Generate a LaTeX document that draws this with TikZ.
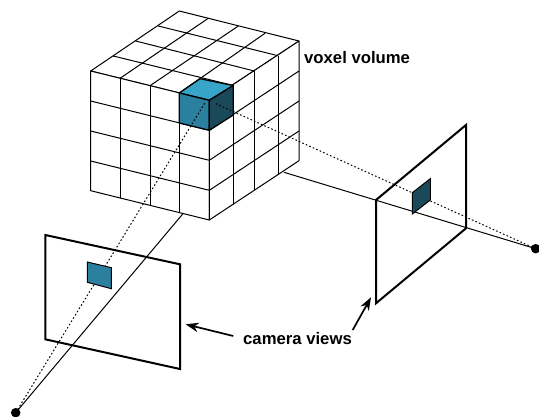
\documentclass[tikz,border=0pt]{standalone}
\usepackage{fontspec}
\setmainfont{Liberation Sans}
\usetikzlibrary{arrows.meta}
\tikzset{
  grid/.style={line width=1pt,line join=round},
  cubeedge/.style={line width=1.3pt,line join=round},
  frame/.style={line width=2pt,line join=miter},
  ray/.style={line width=1pt},
  dotray/.style={line width=1pt,dash pattern=on 1.6pt off 2.2pt},
  focal/.style={circle,fill=black,inner sep=0pt,minimum size=9.5pt},
  label/.style={inner sep=0pt,font=\fontsize{16.7pt}{19pt}\selectfont\bfseries},
  pointer/.style={line width=1.7pt,-{Stealth[length=13pt,width=9.5pt]}}
}
\definecolor{cubetop}{HTML}{37A4C8}
\definecolor{cubeleft}{HTML}{2B7F9F}
\definecolor{cuberight}{HTML}{1A4A5A}
\begin{document}
\begin{tikzpicture}[x=1pt,y=-1pt]
\useasboundingbox (0,0) rectangle (539,416);
% focal points
\node[focal] (fa) at (15.7,412.7) {};
\node[focal] (fb) at (535.7,248.7) {};
\coordinate (ra) at (182.7,214);
\coordinate (rb) at (284,172.3);
\coordinate (da) at (205,102.7);
\coordinate (db) at (215,103.3);
% solid rays
\draw[ray] (fa.center) -- (ra);
\draw[ray] (fb.center) -- (rb);
% image frames
\draw[frame] (45.3,235) -- (180,264.3) -- (180,369) -- (45.3,339.3) -- cycle;
\draw[frame] (376,200) -- (466,125) -- (466,228.3) -- (376,303.3) -- cycle;
% cube faces
\draw[grid,fill=white] (90.7,71) -- (179.3,11) -- (299,41) -- (209.3,100.3) -- cycle;
\draw[grid,fill=white] (90.7,71) -- (209.3,100.3) -- (209.3,220) -- (90.7,190.7) -- cycle;
\draw[grid,fill=white] (209.3,100.3) -- (299,41) -- (299,160.7) -- (209.3,220) -- cycle;
% left face grid
\draw[grid] (120,78.3) -- (120,197.5) (150,85.7) -- (150,205) (179.3,93) -- (179.3,212.5);
\draw[grid] (90.7,101) -- (209.3,130.3) (90.7,131) -- (209.3,160.3) (90.7,161) -- (209.3,190.3);
% right face grid
\draw[grid] (233.3,85.5) -- (233.3,204) (254.3,71) -- (254.3,190) (278,55.7) -- (278,174);
\draw[grid] (209.3,130.3) -- (299,71) (209.3,160.3) -- (299,101) (209.3,190.3) -- (299,131);
% top face grid
\draw[grid] (113.3,56) -- (233.3,85.5) (135.7,41) -- (254.3,71) (158.3,26) -- (278,55.7);
\draw[grid] (120,78.3) -- (208.3,18.3) (150,85.7) -- (238.3,26) (179.3,93) -- (265,33.3);
% highlighted voxel
\draw[cubeedge,fill=cubetop] (179.3,93) -- (200,78.7) -- (233.3,85.5) -- (209.3,100.3) -- cycle;
\draw[cubeedge,fill=cubeleft] (179.3,93) -- (209.3,100.3) -- (209.3,130.3) -- (179.3,123) -- cycle;
\draw[cubeedge,fill=cuberight] (209.3,100.3) -- (233.3,85.5) -- (233.3,115) -- (209.3,130.3) -- cycle;
% dotted rays
\draw[dotray] (fa.center) -- (da);
\draw[dotray] (fb.center) -- (db);
% projected patches
\draw[line width=1pt,fill=cubeleft] (87.3,262) -- (111.3,267.7) -- (111.3,288.7) -- (87.3,282.3) -- cycle;
\draw[line width=1pt,fill=cuberight] (412.3,192.7) -- (430.3,178.7) -- (430.3,200) -- (412.3,214) -- cycle;
% labels
\node[label,anchor=west] (vv) at (304,58) {voxel volume};
\node[label,anchor=base west] (cv) at (243,344) {camera views};
\coordinate (ta) at (185.7,324.3);
\coordinate (tb) at (371,297.3);
\coordinate (sa) at (233.3,336);
\coordinate (sb) at (352.7,330);
\draw[pointer] (sa) -- (ta);
\draw[pointer] (sb) -- (tb);
\end{tikzpicture}
\end{document}
